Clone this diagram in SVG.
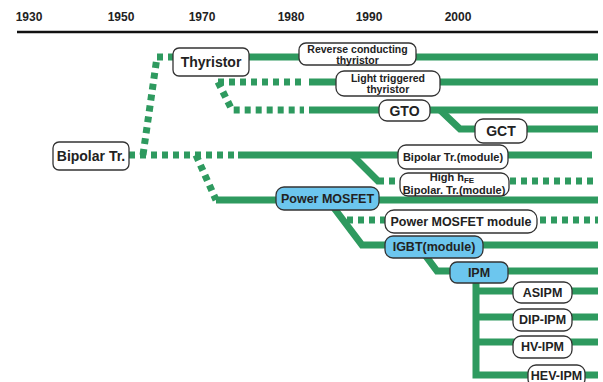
<svg xmlns="http://www.w3.org/2000/svg" width="603" height="382" viewBox="0 0 603 382">
<style>
.yr{font-family:"Liberation Sans",Arial,sans-serif;font-weight:bold;font-size:12px;fill:#222;text-anchor:middle}
.t{font-family:"Liberation Sans",Arial,sans-serif;font-weight:bold;fill:#222;text-anchor:middle}
.b{fill:#fff;stroke:#333;stroke-width:1.3}
.bb{fill:#6cc6ee;stroke:#333;stroke-width:1.3}
.s{fill:none;stroke:#2e9a5f;stroke-width:7;stroke-linejoin:miter}
.d{fill:none;stroke:#2e9a5f;stroke-width:7;stroke-dasharray:6 5}
</style>
<rect width="603" height="382" fill="#fff"/>
<g id="axis">
<text class="yr" x="29" y="21">1930</text>
<text class="yr" x="121" y="21">1950</text>
<text class="yr" x="202" y="21">1970</text>
<text class="yr" x="291" y="21">1980</text>
<text class="yr" x="369" y="21">1990</text>
<text class="yr" x="458" y="21">2000</text>
<line x1="17" y1="32" x2="598" y2="32" stroke="#111" stroke-width="2.5"/>
</g>
<g id="connectors">
<path class="d" d="M143,155 L157,57 L173,57"/>
<path class="s" d="M249,57 L598,57"/>
<path class="d" d="M218,82 L304,82"/>
<path class="s" d="M309,82 L598,82"/>
<path class="d" d="M218,82 L232,110 L304,110"/>
<path class="s" d="M309,110 L598,110"/>
<path class="s" d="M440,110 L460,129 L598,129"/>
<path class="d" d="M129,155 L235,155"/>
<path class="s" d="M238,155 L592,155"/>
<path class="s" d="M352,155 L378,181 L384,181"/>
<path class="d" d="M389,181 L598,181"/>
<path class="d" d="M196,155 L216,200"/>
<path class="s" d="M216,200 L598,200"/>
<path class="s" d="M334,208 L362,245 L598,245"/>
<path class="d" d="M347,220 L385,220"/>
<path class="d" d="M540,220 L598,220"/>
<path class="s" d="M425,255 L437,271 L598,271"/>
<path class="s" d="M476,280 L476,375 L598,375"/>
<path class="s" d="M476,291 L598,291 M476,317 L598,317 M476,342 L598,342"/>
</g>
<g id="bipolar"><rect class="b" x="53" y="142" width="76" height="28" rx="6"/><text class="t" x="91" y="161" font-size="14">Bipolar Tr.</text></g>
<g id="thyristor"><rect class="b" x="173" y="48" width="76" height="28" rx="6"/><text class="t" x="211" y="67" font-size="14">Thyristor</text></g>
<g id="rct"><rect class="b" x="299" y="43" width="117" height="22" rx="7"/><text class="t" x="357.5" y="53" font-size="10.5">Reverse conducting</text><text class="t" x="357.5" y="63.5" font-size="10.5">thyristor</text></g>
<g id="ltt"><rect class="b" x="336" y="71" width="104" height="25" rx="8"/><text class="t" x="388" y="82" font-size="10.5">Light triggered</text><text class="t" x="388" y="92.5" font-size="10.5">thyristor</text></g>
<g id="gto"><rect class="b" x="379" y="100" width="51" height="21" rx="8"/><text class="t" x="404.5" y="115.5" font-size="14">GTO</text></g>
<g id="gct"><rect class="b" x="475" y="119" width="52" height="24" rx="8"/><text class="t" x="501" y="136" font-size="14">GCT</text></g>
<g id="btm"><rect class="b" x="398" y="145" width="110" height="24" rx="8"/><text class="t" x="453" y="161" font-size="11">Bipolar Tr.(module)</text></g>
<g id="hhfe"><rect class="b" x="400" y="173" width="109" height="23" rx="8"/><text class="t" x="452" y="181" font-size="11">High h<tspan font-size="8" dy="2">FE</tspan></text><text class="t" x="454" y="193.5" font-size="11">Bipolar. Tr.(module)</text></g>
<g id="pmos"><rect class="bb" x="276" y="187" width="103" height="23" rx="8"/><text class="t" x="327.5" y="203" font-size="12.5">Power MOSFET</text></g>
<g id="pmm"><rect class="b" x="385" y="210" width="152" height="23" rx="9"/><text class="t" x="461" y="226" font-size="12.5">Power MOSFET module</text></g>
<g id="igbt"><rect class="bb" x="385" y="236" width="98" height="22" rx="8"/><text class="t" x="434" y="251" font-size="12.5">IGBT(module)</text></g>
<g id="ipm"><rect class="bb" x="450" y="262" width="58" height="21" rx="7"/><text class="t" x="479" y="277" font-size="12.5">IPM</text></g>
<g id="asipm"><rect class="b" x="513" y="282" width="59" height="21" rx="8"/><text class="t" x="542.5" y="297" font-size="12.5">ASIPM</text></g>
<g id="dipipm"><rect class="b" x="513" y="309" width="59" height="22" rx="8"/><text class="t" x="542.5" y="324" font-size="12.5">DIP-IPM</text></g>
<g id="hvipm"><rect class="b" x="513" y="336" width="59" height="22" rx="8"/><text class="t" x="542.5" y="351" font-size="12.5">HV-IPM</text></g>
<g id="hevipm"><rect class="b" x="528" y="365" width="57" height="22" rx="8"/><text class="t" x="556.5" y="380" font-size="12.5">HEV-IPM</text></g>
</svg>
